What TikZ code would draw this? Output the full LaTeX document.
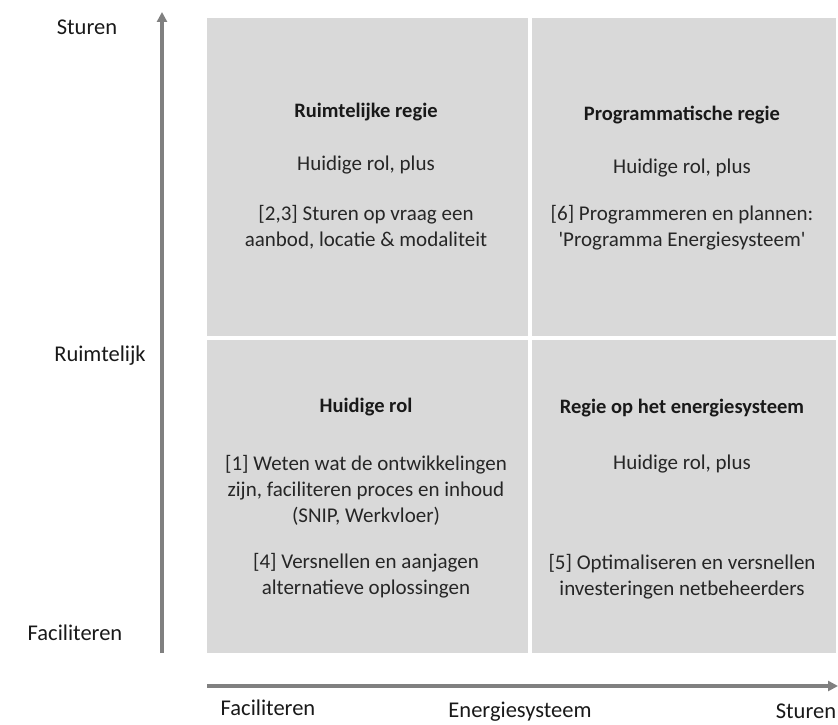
\documentclass[tikz,border=0pt]{standalone}
\usepackage{fontspec}
\setmainfont{Carlito}
\usetikzlibrary{arrows.meta}
\definecolor{cellgray}{gray}{0.85}
\definecolor{axisgray}{gray}{0.5}
\newcommand{\sq}{{\addfontfeature{Ligatures=TeXOff}'}}
\begin{document}
\begin{tikzpicture}[x=1pt,y=-1pt,
  cell/.style={fill=cellgray,draw=none},
  axis/.style={draw=axisgray,line width=3.5pt,-{Triangle[length=10pt,width=10pt]}},
  txt/.style={font=\fontsize{21}{26}\selectfont,align=center,inner sep=0pt,text=black!85},
  ttl/.style={font=\fontsize{20.5}{26}\selectfont\bfseries,align=center,inner sep=0pt,text=black!90},
  lbl/.style={font=\fontsize{22.5}{26}\selectfont,inner sep=0pt,text=black!90}]
\useasboundingbox (0,0) rectangle (838,725);
% cells
\fill[cell] (207,18) rectangle (528,336);
\fill[cell] (532,18) rectangle (836,336);
\fill[cell] (207,340) rectangle (528,653);
\fill[cell] (532,340) rectangle (836,653);
% axes
\coordinate (vs) at (162,653);
\coordinate (ve) at (162,12);
\coordinate (hs) at (207,686);
\coordinate (he) at (838,686);
\draw[axis] (vs) -- (ve);
\draw[axis] (hs) -- (he);
% axis labels
\node[lbl] (ysturen) at (87,27) {Sturen};
\node[lbl] (yruim) at (100,356) {Ruimtelijk};
\node[lbl] (yfac) at (75,633) {Faciliteren};
\node[lbl] (xfac) at (268,708) {Faciliteren};
\node[lbl] (xenergie) at (520,712) {Energiesysteem};
\node[lbl] (xsturen) at (806,711) {Sturen};
% top-left
\node[ttl] (tlt) at (366,112) {Ruimtelijke regie};
\node[txt] (tl1) at (366,165) {Huidige rol, plus};
\node[txt] (tl2) at (366,227) {[2,3] Sturen op vraag een\\aanbod, locatie \& modaliteit};
% top-right
\node[ttl] (trt) at (682,115) {Programmatische regie};
\node[txt] (tr1) at (682,168) {Huidige rol, plus};
\node[txt] (tr2) at (682,228) {[6] Programmeren en plannen:\\\sq Programma Energiesysteem\sq};
% bottom-left
\node[ttl] (blt) at (366,407) {Huidige rol};
\node[txt] (bl1) at (366,490) {[1] Weten wat de ontwikkelingen\\zijn, faciliteren proces en inhoud\\(SNIP, Werkvloer)};
\node[txt] (bl2) at (366,576) {[4] Versnellen en aanjagen\\alternatieve oplossingen};
% bottom-right
\node[ttl] (brt) at (682,408) {Regie op het energiesysteem};
\node[txt] (br1) at (682,464) {Huidige rol, plus};
\node[txt] (br2) at (682,577) {[5] Optimaliseren en versnellen\\investeringen netbeheerders};
\end{tikzpicture}
\end{document}
